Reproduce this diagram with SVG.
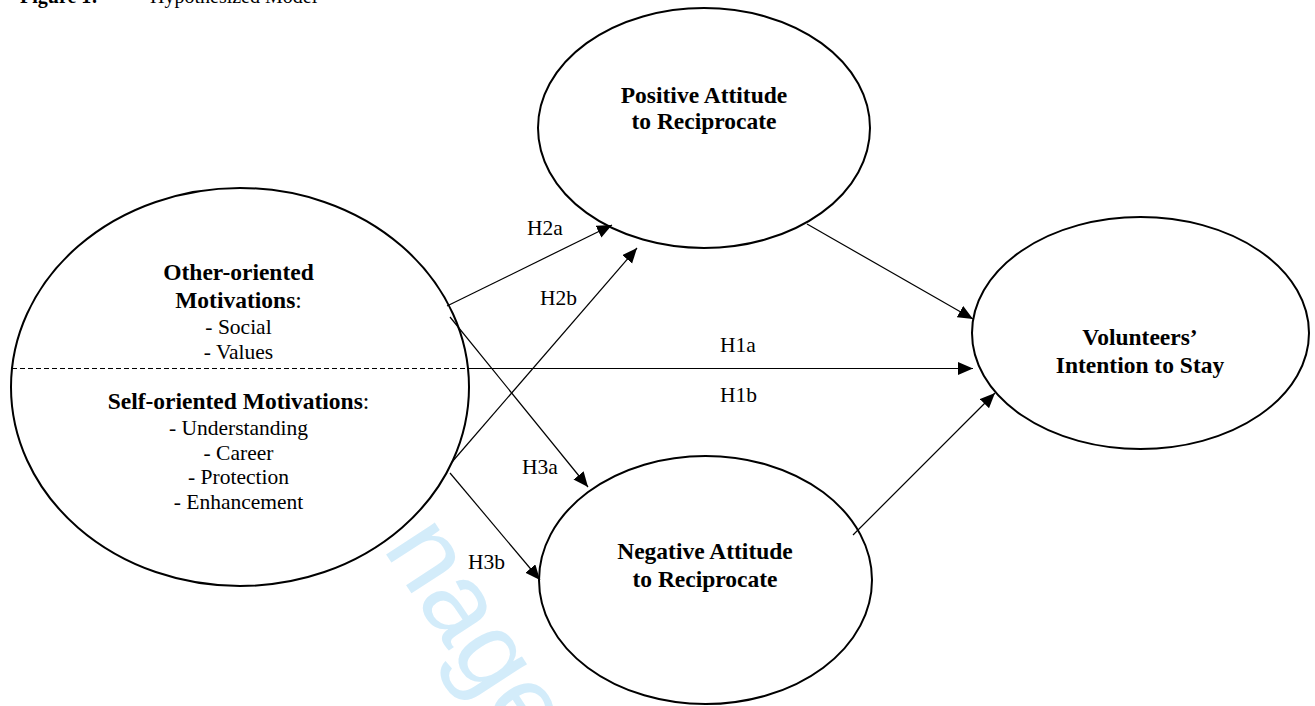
<svg xmlns="http://www.w3.org/2000/svg" width="1315" height="706" viewBox="0 0 1315 706">
<style>
.node{fill:#fff;stroke:#000;stroke-width:2}
.b{font-family:"Liberation Serif","Times New Roman",serif;font-weight:bold;font-size:23.5px;text-anchor:middle;fill:#000}
.r{font-family:"Liberation Serif","Times New Roman",serif;font-size:21.5px;text-anchor:middle;fill:#000}
.lbl{font-family:"Liberation Serif","Times New Roman",serif;font-size:21.5px;fill:#000}
.conn line{stroke:#000;stroke-width:1.2;fill:none}
.wm{font-family:"Liberation Sans",Arial,sans-serif;font-size:110px;fill:#d3ecfa}
</style>
<defs>
<marker id="arr" markerUnits="userSpaceOnUse" markerWidth="16" markerHeight="14" refX="15" refY="6.5" orient="auto">
<path d="M0,0 L15,6.5 L0,13 z" fill="#000"/>
</marker>
</defs>
<rect width="1315" height="706" fill="#fff"/>
<g id="title">
<text x="20" y="3" font-family="Liberation Serif,serif" font-size="20" font-weight="bold">Figure 1:</text>
<text x="150" y="3" font-family="Liberation Serif,serif" font-size="20">Hypothesized Model</text>
</g>
<g id="watermark">
<text class="wm" transform="translate(382,548) rotate(57)">nage</text>
</g>
<g id="motivations">
<ellipse class="node" cx="240" cy="387" rx="229" ry="199"/>
<line x1="12" y1="368.5" x2="468" y2="368.5" stroke="#000" stroke-width="1" stroke-dasharray="5,3"/>
<text class="b" x="238.5" y="280">Other-oriented</text>
<text class="b" x="238.5" y="308">Motivations<tspan font-weight="normal">:</tspan></text>
<text class="r" x="238.5" y="334">- Social</text>
<text class="r" x="238.5" y="359">- Values</text>
<text class="b" x="238.5" y="409">Self-oriented Motivations<tspan font-weight="normal">:</tspan></text>
<text class="r" x="238.5" y="435">- Understanding</text>
<text class="r" x="238.5" y="460">- Career</text>
<text class="r" x="238.5" y="484">-  Protection</text>
<text class="r" x="238.5" y="509">- Enhancement</text>
</g>
<g id="positive">
<ellipse class="node" cx="704" cy="128" rx="166" ry="120"/>
<text class="b" x="704" y="103">Positive Attitude</text>
<text class="b" x="704" y="129">to Reciprocate</text>
</g>
<g id="negative">
<ellipse class="node" cx="705.5" cy="580" rx="166.5" ry="124"/>
<text class="b" x="705" y="559">Negative Attitude</text>
<text class="b" x="705" y="587">to Reciprocate</text>
</g>
<g id="intention">
<ellipse class="node" cx="1140.5" cy="333" rx="168.5" ry="116"/>
<text class="b" x="1140" y="345">Volunteers’</text>
<text class="b" x="1140" y="373">Intention to Stay</text>
</g>
<g id="connectors" class="conn">
<line x1="447" y1="306" x2="612" y2="225" marker-end="url(#arr)"/>
<line x1="452" y1="462" x2="637" y2="248" marker-end="url(#arr)"/>
<line x1="450" y1="317" x2="588" y2="487" marker-end="url(#arr)"/>
<line x1="450" y1="473" x2="540" y2="580" marker-end="url(#arr)"/>
<line x1="468" y1="368.5" x2="973" y2="368.5" marker-end="url(#arr)"/>
<line x1="807" y1="224" x2="973" y2="319" marker-end="url(#arr)"/>
<line x1="853" y1="535" x2="995" y2="393" marker-end="url(#arr)"/>
</g>
<g id="labels">
<text class="lbl" x="527" y="235">H2a</text>
<text class="lbl" x="540" y="305">H2b</text>
<text class="lbl" x="522" y="474">H3a</text>
<text class="lbl" x="468" y="569">H3b</text>
<text class="lbl" x="720" y="352">H1a</text>
<text class="lbl" x="720" y="402">H1b</text>
</g>
</svg>
